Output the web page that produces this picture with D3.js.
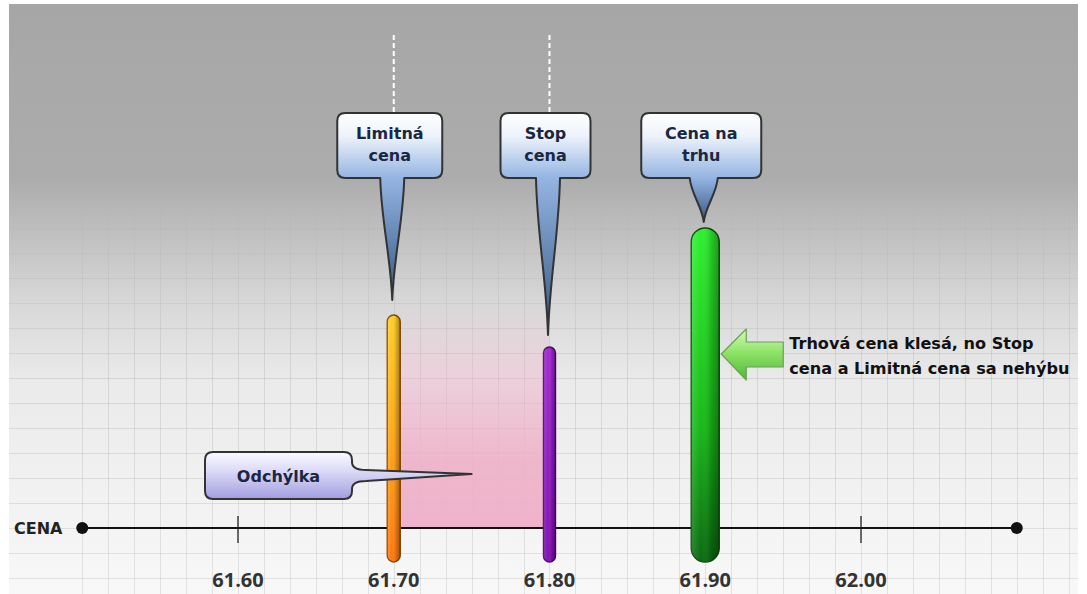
<!DOCTYPE html>
<html><head><meta charset="utf-8">
<script src="https://cdn.jsdelivr.net/npm/d3@7"></script>
<style>body{margin:0;background:#fff}svg{display:block}</style>
</head><body><svg id="c" width="1087" height="594"></svg>
<script>
// ---- data ----
const priceLabels = ["61.60", "61.70", "61.80", "61.90", "62.00"];
const priceTicks = [61.60, 61.70, 61.80, 61.90, 62.00];
const tickMarks = [61.60, 62.00];
const priceDomain = [61.50, 62.10];
const levelNames = [["Limitná", "cena"], ["Stop", "cena"], ["Cena na", "trhu"]];
const levelPrices = [61.70, 61.80, 61.90];
const levelHeights = [213, 181, 300];
const levelTips = [228, 193, 306];
const deviationRange = [61.70, 61.80];
const deviationLabel = "Odchýlka";
const axisLabel = "CENA";
const noteLines = ["Trhová cena klesá, no Stop", "cena a Limitná cena sa nehýbu"];

// ---- drawing ----
const svg = d3.select("#c");
const W = 1087, H = 594;
const x = d3.scaleLinear().domain([61.60, 62.00]).range([238, 861]);
const y = d3.scaleLinear().domain([0, 300]).range([528, 228]);
const axisY = y(0);
const barBottom = y(-34);
const defs = svg.append("defs");

function lin(id, x1, y1, x2, y2, stops, user) {
  const g = defs.append("linearGradient").attr("id", id)
    .attr("x1", x1).attr("y1", y1).attr("x2", x2).attr("y2", y2);
  if (user) g.attr("gradientUnits", "userSpaceOnUse");
  stops.forEach(s => g.append("stop").attr("offset", s[0]).attr("stop-color", s[1]).attr("stop-opacity", s[2] == null ? 1 : s[2]));
  return "url(#" + id + ")";
}

// background
const bg = lin("bg", 0, 0, 0, H, [[0, "#a6a6a6"], [0.3, "#acacac"], [0.5, "#d6d6d6"], [0.64, "#eaeaea"], [1, "#f8f8f8"]], true);
svg.append("rect").attr("x", 9).attr("y", 4).attr("width", 1069).attr("height", H - 4).attr("fill", bg);

// grid
const mg = lin("gridMaskG", 0, 0, 0, H, [[0, "#fff", 0], [0.34, "#fff", 0], [0.5, "#fff", 0.55], [0.62, "#fff", 1], [1, "#fff", 1]], true);
defs.append("mask").attr("id", "gridMask").append("rect").attr("x", 0).attr("y", 0).attr("width", W).attr("height", H).attr("fill", mg);
const grid = svg.append("g").attr("mask", "url(#gridMask)").attr("stroke", "#000").attr("stroke-opacity", 0.085).attr("stroke-width", 1);
const gx = d3.range(0, 44).map(i => priceDomain[0] + i * 0.1 / 6).filter(v => x(v) > 9 && x(v) < 1078);
grid.selectAll("line.v").data(gx).join("line").attr("class", "v")
  .attr("x1", d => Math.round(x(d)) + 0.5).attr("x2", d => Math.round(x(d)) + 0.5).attr("y1", 4).attr("y2", H);
const gy = d3.range(-3, 22).map(i => i * 25).filter(v => y(v) > 4 && y(v) < H);
grid.selectAll("line.h").data(gy).join("line").attr("class", "h")
  .attr("x1", 9).attr("x2", 1078).attr("y1", d => Math.round(y(d)) + 0.5).attr("y2", d => Math.round(y(d)) + 0.5);

// deviation zone
const pink = lin("pink", 0, y(225), 0, axisY, [[0, "#eeb0c8", 0], [0.45, "#eeb0c8", 0.6], [0.7, "#eeb0c8", 0.9], [1, "#eeb0c8", 0.95]], true);
svg.append("rect").attr("x", x(deviationRange[0])).attr("y", y(225))
  .attr("width", x(deviationRange[1]) - x(deviationRange[0])).attr("height", axisY - y(225)).attr("fill", pink);

// axis line, dots, ticks
svg.append("line").attr("x1", x(priceDomain[0])).attr("x2", x(priceDomain[1])).attr("y1", axisY).attr("y2", axisY)
  .attr("stroke", "#111").attr("stroke-width", 2);
svg.selectAll("circle.end").data(priceDomain).join("circle").attr("class", "end")
  .attr("cx", d => x(d)).attr("cy", axisY).attr("r", 6).attr("fill", "#111");
svg.selectAll("line.tick").data(tickMarks).join("line").attr("class", "tick")
  .attr("x1", d => x(d)).attr("x2", d => x(d)).attr("y1", axisY - 12).attr("y2", axisY + 15)
  .attr("stroke", "#222").attr("stroke-width", 1.3);
svg.selectAll("text.lbl").data(priceTicks).join("text").attr("class", "lbl")
  .attr("x", d => x(d)).attr("y", 587).attr("text-anchor", "middle")
  .attr("font-family", "'Open Sans', sans-serif").attr("font-weight", 700).attr("font-size", 20)
  .attr("fill", "#333").text((d, i) => priceLabels[i]);
svg.append("text").attr("x", 14).attr("y", 534).attr("font-family", "'DejaVu Sans', sans-serif")
  .attr("font-weight", 700).attr("font-size", 16).attr("fill", "#222").text(axisLabel);

// dashed guides above first two callouts
svg.selectAll("line.guide").data(levelPrices.slice(0, 2)).join("line").attr("class", "guide")
  .attr("x1", d => x(d)).attr("x2", d => x(d)).attr("y1", 35).attr("y2", 113)
  .attr("stroke", "#fff").attr("stroke-width", 2).attr("stroke-dasharray", "5,3");

// bars
const barStyles = [
  { w: 13, stops: [[0, "#ffcf2a"], [0.5, "#ffa81c"], [1, "#ff7810"]], stroke: "#8a4a00" },
  { w: 12, stops: [[0, "#a42ad6"], [1, "#8410b6"]], stroke: "#4a0a66" },
  { w: 28, stops: [[0, "#2ff02f"], [0.6, "#18b818"], [1, "#0a6a10"]], stroke: "#0b4a0b" }
];
const shade = lin("shadeH", 0, 0, 1, 0, [[0, "#fff", 0.15], [0.35, "#fff", 0.0], [0.7, "#000", 0.15], [1, "#000", 0.35]]);
levelPrices.forEach((p, i) => {
  const s = barStyles[i];
  const fill = lin("bar" + i, 0, 0, 0, 1, s.stops);
  const top = y(levelHeights[i]);
  const bx = x(p) - s.w / 2;
  svg.append("rect").attr("x", bx).attr("y", top).attr("width", s.w).attr("height", barBottom - top)
    .attr("rx", s.w / 2).attr("fill", fill).attr("stroke", s.stroke).attr("stroke-width", 1.4);
  svg.append("rect").attr("x", bx).attr("y", top).attr("width", s.w).attr("height", barBottom - top)
    .attr("rx", s.w / 2).attr("fill", shade);
});

// callouts
function calloutDown(cx, top, w, h, r, tw, tipX, tipY) {
  const x0 = cx - w / 2, x1 = cx + w / 2, y0 = top, y1 = top + h;
  const L = tipY - y1, tl = tipX - tw / 2, tr = tipX + tw / 2;
  return `M${x0 + r},${y0}H${x1 - r}Q${x1},${y0} ${x1},${y0 + r}V${y1 - r}Q${x1},${y1} ${x1 - r},${y1}H${tr}` +
    `C${tr - 1},${y1 + L * 0.35} ${tipX + 1.5},${tipY - L * 0.35} ${tipX},${tipY}` +
    `C${tipX - 1.5},${tipY - L * 0.35} ${tl + 1},${y1 + L * 0.35} ${tl},${y1}` +
    `H${x0 + r}Q${x0},${y1} ${x0},${y1 - r}V${y0 + r}Q${x0},${y0} ${x0 + r},${y0}Z`;
}
const boxW = [105, 90, 120];
const boxTop = 113, boxH = 65;
levelPrices.forEach((p, i) => {
  const tipY = y(levelTips[i]);
  const tipX = x(p) - 1.5;
  const cx = x(p) - 4;
  const frac = boxH / (tipY - boxTop);
  const g = lin("co" + i, 0, boxTop, 0, tipY,
    [[0, "#ffffff"], [frac * 0.35, "#eef3fb"], [frac, "#94b4e2"], [1, "#35577f"]], true);
  svg.append("path").attr("d", calloutDown(cx, boxTop, boxW[i], boxH, 8, i === 2 ? 28 : 24, tipX, tipY))
    .attr("fill", g).attr("stroke", "#333").attr("stroke-width", 2).attr("stroke-linejoin", "round");
  levelNames[i].forEach((t, j) => {
    svg.append("text").attr("x", cx).attr("y", 139 + j * 22).attr("text-anchor", "middle")
      .attr("font-family", "'DejaVu Sans', sans-serif").attr("font-weight", 700).attr("font-size", 16)
      .attr("fill", "#1a2744").text(t);
  });
});

// deviation callout (points right into the zone)
(function () {
  const x0 = 205, x1 = 352, y0 = 452, y1 = 499, r = 8;
  const tipX = x((deviationRange[0] + deviationRange[1]) / 2), tipY = 474;
  const d = `M${x0 + r},${y0}H${x1 - r}Q${x1},${y0} ${x1},${y0 + r}V${462}` +
    `Q${x1},${470} ${x1 + 14},${470}L${tipX},${tipY}L${x1 + 14},${481}Q${x1},${481} ${x1},${489}` +
    `V${y1 - r}Q${x1},${y1} ${x1 - r},${y1}H${x0 + r}Q${x0},${y1} ${x0},${y1 - r}V${y0 + r}Q${x0},${y0} ${x0 + r},${y0}Z`;
  const g = lin("dev", 0, y0, 0, y1, [[0, "#fbfbff"], [0.4, "#dcdaf6"], [1, "#a29ee0"]], true);
  svg.append("path").attr("d", d).attr("fill", g).attr("stroke", "#333").attr("stroke-width", 2).attr("stroke-linejoin", "round");
  svg.append("text").attr("x", (x0 + x1) / 2).attr("y", 482).attr("text-anchor", "middle")
    .attr("font-family", "'DejaVu Sans', sans-serif").attr("font-weight", 700).attr("font-size", 16)
    .attr("fill", "#1a2744").text(deviationLabel);
})();

// arrow + note
(function () {
  const tipX = x(levelPrices[2]) + barStyles[2].w / 2 + 2, cy = 354;
  const d = `M${tipX},${cy}L${tipX + 25},${cy - 25}V${cy - 12}H${tipX + 62}V${cy + 13}H${tipX + 25}V${cy + 26}Z`;
  const g = lin("arrow", 0, 0, 0, 1, [[0, "#d4fbb4"], [0.45, "#8fe46a"], [1, "#4fb838"]]);
  svg.append("path").attr("d", d).attr("fill", g).attr("stroke", "#6f9e5a").attr("stroke-width", 1.2).attr("stroke-linejoin", "round");
  noteLines.forEach((t, j) => {
    svg.append("text").attr("x", tipX + 68).attr("y", 349 + j * 25)
      .attr("font-family", "'DejaVu Sans', sans-serif").attr("font-weight", 700).attr("font-size", 16.1)
      .attr("fill", "#111").text(t);
  });
})();
</script></body></html>
